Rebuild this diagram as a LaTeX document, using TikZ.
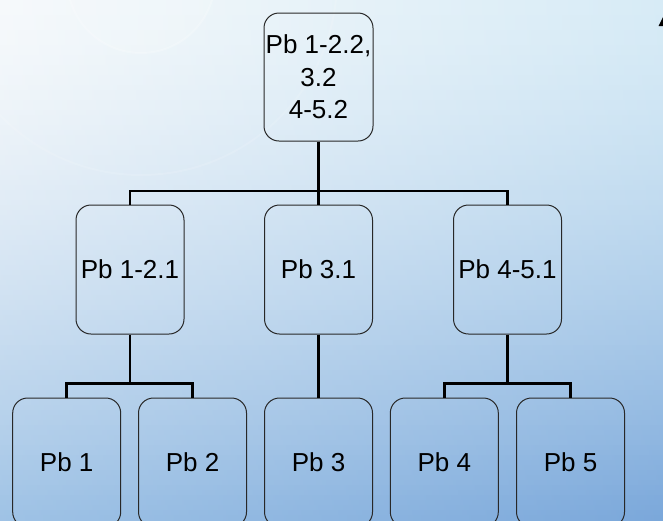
\documentclass[tikz,border=0pt]{standalone}
\usepackage{fontspec}
\setmainfont{Liberation Sans}
\definecolor{TLc}{RGB}{246,249,251}
\definecolor{TRc}{RGB}{215,235,246}
\definecolor{BLc}{RGB}{158,194,229}
\definecolor{BRc}{RGB}{122,167,218}
\definecolor{boxline}{RGB}{40,40,40}
\begin{document}
\begin{tikzpicture}[x=1pt,y=-1pt,
  box/.style={draw=boxline, line width=1pt, rounded corners=15pt,
    minimum width=108pt, minimum height=129pt, inner sep=0pt,
    font=\fontsize{26}{32.5}\selectfont, align=center, text=black},
  conn/.style={line width=2.8pt, draw=black},
  ring/.style={draw=white, line width=2pt}]
\path[use as bounding box] (0,0) rectangle (663,520);
\begin{scope}
\clip (0,0) rectangle (663,520);
% background gradient
\foreach \k in {0,...,103}{
  \pgfmathsetmacro\ym{5*\k+2.5}
  \pgfmathtruncatemacro\p{round(100*(\ym/520)^1.5)}
  \shade[left color=BLc!\p!TLc, right color=BRc!\p!TRc] (-1,{5*\k}) rectangle (664,{5*\k+5.6});
}
% faint rings
\fill[white, opacity=0.12] (141,-21) circle (74);
\draw[ring, opacity=0.22] (141,-21) circle (74);
\draw[ring, opacity=0.12] (141,-21) circle (196);
% corner mark
\fill[black] (663,17) -- (658.5,26) -- (663,26) -- cycle;
% nodes
\node[box, minimum width=109pt, minimum height=128pt] (top) at (318.5,77) {Pb 1-2.2,\\3.2\\4-5.2};
\node[box] (m1) at (130,269.5) {Pb 1-2.1};
\node[box] (m2) at (318.5,269.5) {Pb 3.1};
\node[box] (m3) at (507.5,269.5) {Pb 4-5.1};
\node[box] (b1) at (66.7,462.5) {Pb 1};
\node[box] (b2) at (192.5,462.5) {Pb 2};
\node[box] (b3) at (318.5,462.5) {Pb 3};
\node[box] (b4) at (444.3,462.5) {Pb 4};
\node[box] (b5) at (570.5,462.5) {Pb 5};
% junctions
\coordinate (j1) at (318.5,191);
\coordinate (j2) at (130,383.3);
\coordinate (j4) at (507.5,383.3);
% connectors
\draw[conn] (top.south) -- (j1);
\draw[conn] (m1.north) |- (j1) -| (m3.north);
\draw[conn] (m2.north) -- (j1);
\draw[conn] (m1.south) -- (j2);
\draw[conn] (b1.north) |- (j2) -| (b2.north);
\draw[conn] (m2.south) -- (b3.north);
\draw[conn] (m3.south) -- (j4);
\draw[conn] (b4.north) |- (j4) -| (b5.north);
\end{scope}
\end{tikzpicture}
\end{document}
